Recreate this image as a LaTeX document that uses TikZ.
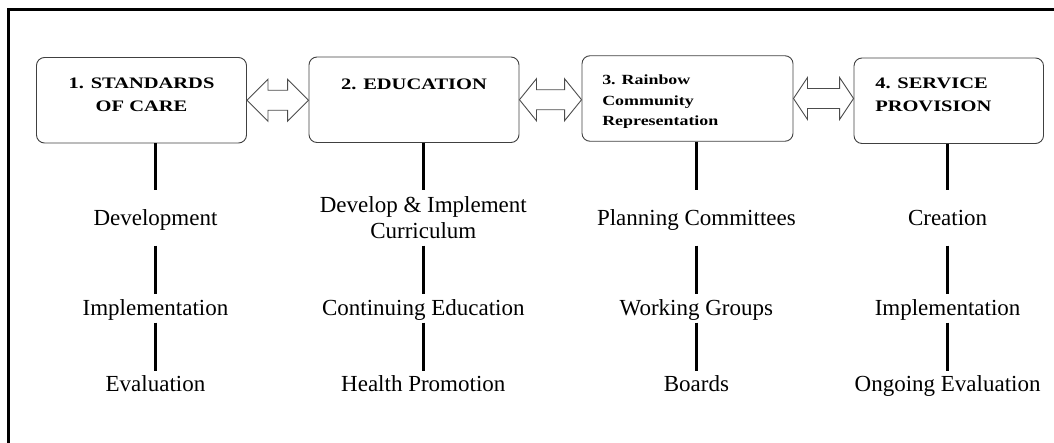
\documentclass[tikz,border=0pt]{standalone}
\usepackage{fontspec}
\setmainfont{Liberation Serif}
\newfontfamily\headfont{Liberation Serif}[FakeStretch=1.28]
\usetikzlibrary{positioning,calc}

\tikzset{
  pillar/.style={draw=black!75, line width=0.9pt, rounded corners=8pt,
    minimum width=210pt, minimum height=85.5pt, inner sep=0pt},
  head/.style={inner sep=0pt, text height=11pt,
    font=\headfont\bfseries\fontsize{16}{22.5}\selectfont},
  item/.style={inner sep=0pt, text height=17pt, text depth=2pt,
    font=\fontsize{23}{26}\selectfont},
  itemtop/.style={item, minimum height=55pt},
  itemmid/.style={item, minimum height=27.7pt},
  itemlow/.style={item, minimum height=25pt},
  stem/.style={line width=3pt},
  link/.style={draw=black!70, line width=0.9pt, fill=white},
  frame/.style={line width=2.5pt}
}

% hollow two-way block arrow between two pillars, #3 = head length
\newcommand{\linkarrow}[3]{%
  \draw[link] let \p1=(#1.east), \p2=(#2.west) in
    (\x1,\y1) -- (\x1+#3,\y1+21) -- (\x1+#3,\y1+10) -- (\x2-#3,\y1+10)
    -- (\x2-#3,\y1+21) -- (\x2,\y1) -- (\x2-#3,\y1-21) -- (\x2-#3,\y1-10)
    -- (\x1+#3,\y1-10) -- (\x1+#3,\y1-21) -- cycle;}

\begin{document}
\begin{tikzpicture}[x=1pt,y=-1pt]
  \useasboundingbox (0,0) rectangle (1054,443);
  \draw[frame] (8.5,443) -- (8.5,9.5) -- (1054,9.5);

  % the four pillars
  \node[pillar] (p1) at (141.5,100.25) {};
  \node[pillar] (p2) at (414,99.75) {};
  \node[pillar, minimum width=211pt] (p3) at (687.5,98.5) {};
  \node[pillar, minimum width=189.5pt] (p4) at (948.75,100.75) {};

  % multi-line heads sit on their last line, hence the taller text height
  \node[head, align=center, text height=33.5pt, below=20.5pt of p1.north] (h1) {1. STANDARDS\\OF CARE};
  \node[head, below=22pt of p2.north] (h2) {2. EDUCATION};
  \node[head, align=left, below right=20pt and 20.5pt of p3.north west,
    text height=50.5pt, font=\headfont\bfseries\fontsize{14}{20.5}\selectfont]
    (h3) {3. Rainbow\\Community\\Representation};
  \node[head, align=left, text height=33.5pt, below right=20pt and 21.5pt of p4.north west] (h4) {4. SERVICE\\PROVISION};

  \linkarrow{p1}{p2}{21}
  \linkarrow{p2}{p3}{17}
  \linkarrow{p3}{p4}{14}

  % what sits under each pillar
  \node[itemtop] (a1) at (155.5,218) {Development};
  \node[itemmid] (b1) at (155.5,308.5) {Implementation};
  \node[itemlow] (c1) at (155.5,384) {Evaluation};

  \node[itemtop, align=center, text height=43pt] (a2) at (423.3,218) {Develop \& Implement\\Curriculum};
  \node[itemmid] (b2) at (423.3,308.5) {Continuing Education};
  \node[itemlow] (c2) at (423.3,384) {Health Promotion};

  \node[itemtop] (a3) at (696.4,218) {Planning Committees};
  \node[itemmid] (b3) at (696.4,308.5) {Working Groups};
  \node[itemlow] (c3) at (696.4,384) {Boards};

  \node[itemtop] (a4) at (947.6,218) {Creation};
  \node[itemmid] (b4) at (947.6,308.5) {Implementation};
  \node[itemlow] (c4) at (947.6,384) {Ongoing Evaluation};

  \foreach \k in {1,...,4} {
    \draw[stem] (a\k |- p\k.south) -- (a\k.north);
    \draw[stem] (a\k.south) -- (b\k.north);
    \draw[stem] (b\k.south) -- (c\k.north);
  }
\end{tikzpicture}
\end{document}
